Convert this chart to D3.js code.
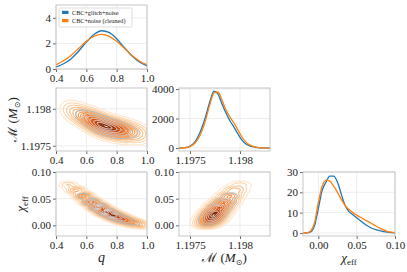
<!DOCTYPE html>
<html>
<head>
<meta charset="utf-8">
<script src="https://cdn.jsdelivr.net/npm/d3@7"></script>
<style>
body { margin: 0; background: #fff; }
svg text { font-family: "Liberation Serif", "DejaVu Serif", serif; fill: #222; }
</style>
</head>
<body>
<svg id="chart" width="407" height="272"></svg>
<script>
// ---- 1D marginals ----
var qVals      = [0.40, 0.45, 0.50, 0.55, 0.60, 0.65, 0.70, 0.75, 0.80, 0.85, 0.90, 0.95, 1.00];
var qBlue      = [0.17, 0.41, 0.81, 1.41, 2.10, 2.70, 2.99, 2.86, 2.36, 1.68, 1.03, 0.55, 0.25];
var qOrange    = [0.34, 0.64, 1.08, 1.62, 2.16, 2.56, 2.70, 2.55, 2.16, 1.62, 1.07, 0.63, 0.33];

var mVals      = [1.19739, 1.19745, 1.19750, 1.19755, 1.19760, 1.19765, 1.19770, 1.19774, 1.19778, 1.19782,
                  1.19786, 1.19790, 1.19794, 1.19798, 1.19802, 1.19806, 1.19810, 1.19816, 1.19822, 1.19830];
var mBlue      = [0, 30, 135, 420, 1050, 2000, 3170, 3860, 3660, 2980, 2370, 1830, 1420, 950, 540, 270, 135, 50, 10, 0];
var mOrange    = [0, 20, 100, 340, 850, 1760, 2980, 3730, 3800, 3250, 2580, 2100, 1700, 1220, 750, 400, 200, 70, 15, 0];

var chiVals    = [-0.020, -0.015, -0.010, -0.005, 0.000, 0.005, 0.010, 0.015, 0.020, 0.025, 0.030, 0.035, 0.040,
                  0.045, 0.050, 0.055, 0.060, 0.065, 0.070, 0.075, 0.080, 0.085, 0.090, 0.095, 0.100];
var chiBlue    = [0, 0.05, 0.5, 3.5, 12, 21, 25, 28, 28, 25, 19, 13.5, 10.5, 9, 7.5, 6, 4.5, 3.3, 2.3, 1.6, 1.1, 0.7, 0.4, 0.2, 0.1];
var chiOrange  = [0, 0.1, 1, 5, 15, 23, 26, 25.5, 23, 20, 16.5, 13.5, 11.5, 10, 8.8, 7.7, 6.6, 5.6, 4.5, 3.4, 2.4, 1.5, 0.8, 0.4, 0.15];

// ---- 2D posterior ridge (centres along the banana) ----
var ridgeQ       = [0.48, 0.53, 0.58, 0.63, 0.68, 0.73, 0.78, 0.83, 0.88, 0.93, 0.98];
var ridgeChi     = [0.076, 0.066, 0.055, 0.044, 0.034, 0.025, 0.018, 0.012, 0.007, 0.003, 0.000];
var ridgeM       = [1.19800, 1.19795, 1.19790, 1.19785, 1.19780, 1.19776, 1.19773, 1.19771, 1.19769, 1.19767, 1.19765];
var weightOrange = [0.10, 0.25, 0.45, 0.70, 0.95, 1.00, 0.90, 0.70, 0.45, 0.25, 0.10];
var weightBlue   = [0.03, 0.10, 0.30, 0.65, 1.00, 1.00, 0.85, 0.55, 0.30, 0.12, 0.04];
var spreadQ = 0.035, spreadM = 0.00007, spreadChi = 0.004;

// ---- ticks ----
var qTicks = [0.4, 0.6, 0.8, 1.0], qTickLabels = ["0.4", "0.6", "0.8", "1.0"];
var mTicks = [1.1975, 1.198], mTickLabels = ["1.1975", "1.198"];
var chiTicks = [0, 0.05, 0.10], chiTickLabels = ["0.00", "0.05", "0.10"];
var qDensTicks = [0, 2, 4], mDensTicks = [0, 2000, 4000], chiDensTicks = [0, 10, 20, 30];

var blue = "#1f77b4", orange = "#ff7f0e";
var serif = "'Liberation Serif', 'DejaVu Serif', serif";
var svg = d3.select("#chart");

// column / row extents
var col = [[56, 147], [179, 270], [303, 395]];
var row = [[5, 69], [88, 151], [172, 236]];

var qScale   = d3.scaleLinear().domain([0.4, 1.0]).range(col[0]);
var mScaleX  = d3.scaleLinear().domain([1.19739, 1.1983]).range(col[1]);
var chiScaleX= d3.scaleLinear().domain([-0.02, 0.10]).range(col[2]);
var qDensY   = d3.scaleLinear().domain([0, 5]).range([row[0][1], row[0][0]]);
var mScaleY  = d3.scaleLinear().domain([1.19743, 1.19828]).range([row[1][1], row[1][0]]);
var mDensY   = d3.scaleLinear().domain([-200, 4070]).range([row[1][1], row[1][0]]);
var chiScaleY= d3.scaleLinear().domain([-0.02, 0.10]).range([row[2][1], row[2][0]]);
var chiDensY = d3.scaleLinear().domain([-1.5, 30]).range([row[2][1], row[2][0]]);

var clipId = 0;
function panel(xs, ys, xt, xtl, yt, ytl) {
  var x0 = xs.range()[0], x1 = xs.range()[1], y0 = ys.range()[1], y1 = ys.range()[0];
  var g = svg.append("g");
  // grid
  g.selectAll(".gx").data(xt).enter().append("line")
    .attr("x1", function(d){ return xs(d); }).attr("x2", function(d){ return xs(d); })
    .attr("y1", y0).attr("y2", y1).attr("stroke", "#e8e8e8").attr("stroke-width", 0.8);
  g.selectAll(".gy").data(yt).enter().append("line")
    .attr("y1", function(d){ return ys(d); }).attr("y2", function(d){ return ys(d); })
    .attr("x1", x0).attr("x2", x1).attr("stroke", "#e8e8e8").attr("stroke-width", 0.8);
  // axes
  var ax = g.append("g").attr("transform", "translate(0," + y1 + ")")
    .call(d3.axisBottom(xs).tickValues(xt).tickSize(3).tickPadding(2)
      .tickFormat(function(d, i){ return xtl[i]; }));
  var ay = g.append("g").attr("transform", "translate(" + x0 + ",0)")
    .call(d3.axisLeft(ys).tickValues(yt).tickSize(3).tickPadding(2)
      .tickFormat(function(d, i){ return ytl[i]; }));
  [ax, ay].forEach(function(a){
    a.attr("font-family", null).attr("font-size", null);
    a.select(".domain").remove();
    a.selectAll("line").attr("stroke", "#444").attr("stroke-width", 0.8);
    a.selectAll("text").style("font-family", serif).style("font-size", "11px").attr("fill", "#222");
  });
  var id = "clip" + (clipId++);
  svg.append("clipPath").attr("id", id).append("rect")
    .attr("x", x0).attr("y", y0).attr("width", x1 - x0).attr("height", y1 - y0);
  var plot = svg.append("g").attr("clip-path", "url(#" + id + ")");
  var frame = function(){
    svg.append("rect").attr("x", x0).attr("y", y0).attr("width", x1 - x0).attr("height", y1 - y0)
      .attr("fill", "none").attr("stroke", "#b8b8b8").attr("stroke-width", 0.8);
  };
  return {plot: plot, frame: frame, x0: x0, y0: y0, w: x1 - x0, h: y1 - y0};
}

function curve(p, xs, ys, xv, yv, color) {
  var line = d3.line().x(function(d, i){ return xs(xv[i]); }).y(function(d){ return ys(d); })
    .curve(d3.curveMonotoneX);
  p.plot.append("path").attr("d", line(yv)).attr("fill", "none")
    .attr("stroke", color).attr("stroke-width", 1.3);
}

function contourSet(p, xs, ys, cx, cy, sx, sy, weights, levels, colorFn, width) {
  var n = p.w, m = p.h, vals = new Array(n * m), max = 0;
  for (var j = 0; j < m; j++) {
    for (var i = 0; i < n; i++) {
      var dx = xs.invert(p.x0 + i + 0.5), dy = ys.invert(p.y0 + j + 0.5), s = 0;
      for (var k = 0; k < weights.length; k++) {
        var a = (dx - cx[k]) / sx, b = (dy - cy[k]) / sy;
        s += weights[k] * Math.exp(-0.5 * (a * a + b * b));
      }
      vals[j * n + i] = s;
      if (s > max) max = s;
    }
  }
  var cs = d3.contours().size([n, m]).thresholds(levels.map(function(l){ return l * max; }))(vals);
  var g = p.plot.append("g").attr("transform", "translate(" + p.x0 + "," + p.y0 + ")");
  g.selectAll("path").data(cs).enter().append("path")
    .attr("d", d3.geoPath())
    .attr("fill", "none")
    .attr("stroke", function(d, i){ return colorFn(i / (cs.length - 1)); })
    .attr("stroke-width", width);
}

var orangeLevels = [0.02, 0.05, 0.09, 0.14, 0.20, 0.26, 0.32, 0.38, 0.44, 0.49, 0.54, 0.59, 0.63, 0.67,
                    0.71, 0.74, 0.77, 0.80, 0.83, 0.86, 0.88, 0.90, 0.92, 0.94, 0.96, 0.98];
var blueLevels = [0.12, 0.28, 0.44, 0.60, 0.76, 0.90];
var orangeColor = function(t){ return d3.interpolateOranges(0.12 + 0.88 * Math.pow(t, 0.7)); };
var blueColor = function(t){ return d3.interpolateBlues(0.4 - 0.4 * t); };

// --- top-left: q marginal
var p1 = panel(qScale, qDensY, qTicks, qTickLabels, qDensTicks, qDensTicks.map(String));
curve(p1, qScale, qDensY, qVals, qBlue, blue);
curve(p1, qScale, qDensY, qVals, qOrange, orange);
p1.frame();

// --- middle-left: M vs q
var p2 = panel(qScale, mScaleY, qTicks, qTickLabels, mTicks, mTickLabels);
contourSet(p2, qScale, mScaleY, ridgeQ, ridgeM, spreadQ, spreadM, weightOrange, orangeLevels, orangeColor, 1.1);
contourSet(p2, qScale, mScaleY, ridgeQ, ridgeM, spreadQ * 0.9, spreadM * 0.9, weightBlue, blueLevels, blueColor, 0.9);
p2.frame();

// --- middle-center: M marginal
var p3 = panel(mScaleX, mDensY, mTicks, mTickLabels, mDensTicks, mDensTicks.map(String));
curve(p3, mScaleX, mDensY, mVals, mBlue, blue);
curve(p3, mScaleX, mDensY, mVals, mOrange, orange);
p3.frame();

// --- bottom-left: chi vs q
var p4 = panel(qScale, chiScaleY, qTicks, qTickLabels, chiTicks, chiTickLabels);
contourSet(p4, qScale, chiScaleY, ridgeQ, ridgeChi, spreadQ, spreadChi, weightOrange, orangeLevels, orangeColor, 1.1);
contourSet(p4, qScale, chiScaleY, ridgeQ, ridgeChi, spreadQ * 0.9, spreadChi * 0.9, weightBlue, blueLevels, blueColor, 0.9);
p4.frame();

// --- bottom-center: chi vs M
var p5 = panel(mScaleX, chiScaleY, mTicks, mTickLabels, chiTicks, chiTickLabels);
contourSet(p5, mScaleX, chiScaleY, ridgeM, ridgeChi, spreadM, spreadChi * 1.1, weightOrange, orangeLevels, orangeColor, 1.1);
contourSet(p5, mScaleX, chiScaleY, ridgeM, ridgeChi, spreadM * 0.9, spreadChi, weightBlue, blueLevels, blueColor, 0.9);
p5.frame();

// --- bottom-right: chi marginal
var p6 = panel(chiScaleX, chiDensY, chiTicks, chiTickLabels, chiDensTicks, chiDensTicks.map(String));
curve(p6, chiScaleX, chiDensY, chiVals, chiBlue, blue);
curve(p6, chiScaleX, chiDensY, chiVals, chiOrange, orange);
p6.frame();

// --- axis labels
function mLabel(t) {
  t.append("tspan").style("font-family", "'DejaVu Serif', serif").text("\u2133");
  t.append("tspan").text(" (");
  t.append("tspan").attr("font-style", "italic").text("M");
  t.append("tspan").attr("font-size", 8).attr("dy", 3).style("font-family", "'DejaVu Sans', sans-serif").text("\u2299");
  t.append("tspan").attr("dy", -3).text(")");
}
function chiLabel(t) {
  t.append("tspan").attr("font-style", "italic").text("\u03c7");
  t.append("tspan").attr("font-size", 9).attr("dy", 3).text("eff");
}
svg.append("text").attr("x", 101.5).attr("y", 262).attr("text-anchor", "middle")
  .attr("font-size", 14).attr("font-style", "italic").text("q");
mLabel(svg.append("text").attr("x", 224.5).attr("y", 262).attr("text-anchor", "middle").attr("font-size", 13));
chiLabel(svg.append("text").attr("x", 349).attr("y", 262).attr("text-anchor", "middle").attr("font-size", 13));
mLabel(svg.append("text").attr("text-anchor", "middle").attr("font-size", 13)
  .attr("transform", "translate(17,119.5) rotate(-90)"));
chiLabel(svg.append("text").attr("text-anchor", "middle").attr("font-size", 13)
  .attr("transform", "translate(25,204) rotate(-90)"));

// --- legend
var legendNames = ["CBC+glitch+noise", "CBC+noise (cleaned)"];
var legendColors = [blue, orange];
var lg = svg.append("g");
lg.append("rect").attr("x", 59).attr("y", 8).attr("width", 73).attr("height", 19).attr("rx", 1.5)
  .attr("fill", "#fff").attr("fill-opacity", 0.85).attr("stroke", "#d0d0d0").attr("stroke-width", 0.7);
legendNames.forEach(function(name, i){
  lg.append("rect").attr("x", 62).attr("y", 10.8 + i * 8.2).attr("width", 6.5).attr("height", 3.2)
    .attr("fill", legendColors[i]);
  lg.append("text").attr("x", 72).attr("y", 14.5 + i * 8.2).attr("font-size", 6.2).text(name);
});
</script>
</body>
</html>
